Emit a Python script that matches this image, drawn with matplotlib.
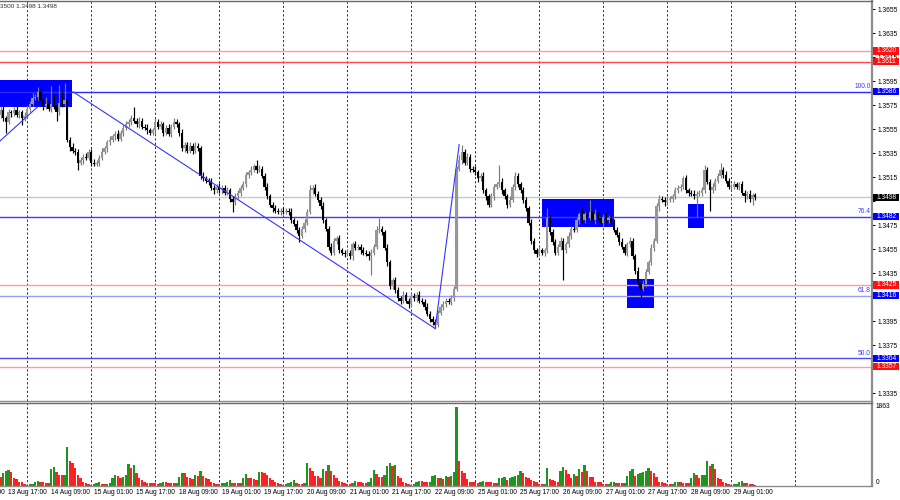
import matplotlib
matplotlib.use("Agg")
import matplotlib.pyplot as plt
from matplotlib.patches import Rectangle
import matplotlib.transforms as mtransforms

plt.rcParams['font.family'] = ['Liberation Sans', 'DejaVu Sans']

# ---------------- data (prices in pips: 13571 -> 1.3571) ----------------
first_open = 13567
closes = [
    13571,13564,13561,13569,13568,13571,13567,13569,13564,13566,
    13572,13576,13581,13582,13586,13579,13574,13576,13572,13576,
    13574,13569,13577,13576,13579,13546,13540,13537,13536,13527,
    13529,13532,13531,13536,13527,13526,13527,13531,13536,13539,
    13544,13546,13549,13551,13547,13552,13556,13559,13561,13564,
    13562,13559,13562,13557,13556,13554,13552,13554,13561,13557,
    13559,13552,13556,13551,13557,13561,13559,13552,13539,13542,
    13537,13541,13537,13541,13539,13516,13514,13512,13511,13506,
    13504,13507,13504,13506,13502,13504,13497,13494,13499,13502,
    13506,13509,13517,13519,13521,13524,13521,13522,13516,13507,
    13499,13492,13489,13487,13486,13487,13486,13487,13486,13479,
    13476,13471,13466,13472,13477,13486,13504,13506,13501,13496,
    13491,13479,13472,13457,13452,13462,13464,13454,13452,13451,
    13452,13449,13459,13456,13457,13454,13452,13451,13449,13452,
    13457,13471,13472,13469,13456,13444,13424,13429,13421,13414,
    13412,13417,13412,13409,13416,13414,13417,13412,13411,13407,
    13401,13397,13394,13392,13402,13407,13409,13412,13411,13414,
    13422,13522,13529,13536,13527,13532,13522,13521,13519,13514,
    13516,13504,13499,13492,13499,13507,13509,13511,13504,13499,
    13492,13496,13507,13516,13509,13504,13496,13489,13477,13462,
    13454,13451,13454,13452,13454,13481,13469,13461,13452,13457,
    13462,13454,13459,13466,13472,13471,13479,13484,13479,13484,
    13481,13486,13479,13484,13481,13477,13482,13479,13481,13477,
    13471,13467,13461,13457,13452,13459,13462,13449,13437,13427,
    13422,13426,13436,13444,13456,13462,13491,13497,13496,13494,
    13496,13497,13499,13504,13506,13507,13514,13504,13502,13501,
    13499,13501,13502,13504,13521,13511,13504,13507,13512,13516,
    13521,13517,13512,13507,13507,13509,13507,13509,13502,13499,
    13501,13497,13500,13498,
]
upper_wick = [
    2,3,2,3,2,2,3,2,2,3,
    3,2,4,2,4,3,2,6,3,15,
    8,2,15,10,14,3,2,3,2,2,
    3,2,3,2,2,3,2,2,3,2,
    2,3,2,2,3,2,2,3,2,3,
    9,2,3,2,2,3,2,2,3,2,
    3,2,2,3,2,3,2,2,3,2,
    2,3,2,3,2,2,3,2,2,3,
    2,2,3,2,2,3,2,2,3,2,
    2,3,2,2,3,2,5,3,2,2,
    3,2,2,3,2,2,3,2,2,3,
    2,3,2,2,3,2,4,2,3,2,
    2,3,2,2,3,2,2,3,2,2,
    3,2,2,3,2,2,3,2,2,3,
    2,3,9,2,2,3,2,2,3,2,
    2,3,2,2,3,2,2,3,2,2,
    3,2,2,3,2,2,3,2,2,3,
    2,2,4,6,2,3,2,2,3,2,
    2,3,2,2,3,2,2,14,3,2,
    2,3,2,3,2,2,3,2,2,3,
    2,2,3,2,2,8,2,3,2,2,
    3,2,2,3,2,2,3,2,5,2,
    3,10,2,4,2,3,2,4,2,2,
    3,2,2,3,2,2,3,2,2,3,
    2,3,2,2,3,2,2,3,2,2,
    3,2,2,3,2,2,2,3,2,2,
    3,2,2,3,4,2,2,3,2,2,
    6,2,3,2,2,3,2,2,3,2,
    2,3,2,2,
]
lower_wick = [
    3,2,9,2,3,2,2,3,6,2,
    2,3,2,2,3,2,3,2,2,3,
    2,7,2,3,2,2,3,2,3,6,
    2,3,2,2,3,2,2,3,2,2,
    3,2,2,3,2,2,3,2,2,3,
    2,2,3,2,2,3,2,2,3,2,
    2,3,2,2,3,2,2,3,2,3,
    2,2,3,2,2,3,2,2,3,2,
    3,2,2,3,2,2,3,8,2,2,
    3,2,2,3,2,2,3,2,2,3,
    2,2,3,2,2,3,2,2,3,2,
    2,3,5,2,3,2,2,3,2,2,
    3,2,2,3,2,2,3,2,2,3,
    2,2,3,2,2,3,2,2,3,16,
    2,2,3,2,2,3,2,2,3,2,
    3,2,2,3,2,2,3,2,2,3,
    2,3,2,3,2,2,3,2,2,3,
    2,2,2,3,2,2,3,2,2,3,
    2,2,3,2,2,3,2,2,3,2,
    3,2,2,3,2,2,3,2,2,3,
    2,3,2,2,3,2,2,3,2,2,
    3,25,2,2,3,2,2,3,2,2,
    3,2,2,3,2,2,3,2,2,3,
    2,2,3,2,2,3,2,2,3,2,
    7,2,3,2,2,3,2,4,2,3,
    2,2,3,2,2,3,2,2,3,2,
    2,17,2,3,2,2,17,2,3,2,
    2,3,2,2,3,2,2,3,2,5,
    2,3,5,2,
]
volumes = [
    216,296,344,376,320,184,160,104,88,56,
    30,40,56,104,120,104,96,80,72,400,
    456,320,248,248,264,920,600,536,424,264,
    184,88,72,56,30,40,72,88,56,48,
    56,64,184,264,232,200,216,264,520,424,
    488,296,184,152,104,80,80,64,64,40,
    64,88,88,72,72,64,80,216,304,304,
    216,184,168,264,232,360,240,200,160,88,
    72,56,40,64,72,104,152,80,72,72,
    72,200,280,200,184,160,152,336,336,296,
    264,200,152,104,72,40,30,40,72,104,
    152,80,56,40,80,536,424,344,240,232,
    200,400,360,488,344,264,184,120,88,72,
    56,40,72,120,104,104,72,72,96,200,
    376,280,216,216,248,480,536,472,496,240,
    184,104,72,40,30,56,88,120,120,104,
    88,96,232,248,184,200,168,232,216,240,
    320,1863,600,360,296,160,104,88,88,72,
    104,112,104,88,88,72,72,184,192,216,
    136,184,216,240,264,360,312,216,184,144,
    120,88,56,40,56,424,168,136,120,88,
    360,456,376,280,200,280,240,392,328,488,
    344,216,216,88,88,88,56,40,56,88,
    104,72,72,64,80,232,344,408,232,280,
    296,320,360,424,344,296,216,104,88,72,
    56,40,56,88,104,88,72,72,72,200,
    296,264,184,248,256,600,472,520,408,184,
    176,88,72,40,30,40,56,88,120,72,
    64,56,48,30,
]
time_labels = ["13 Aug 01:00", "13 Aug 17:00", "14 Aug 09:00", "15 Aug 01:00",
               "15 Aug 17:00", "18 Aug 09:00", "19 Aug 01:00", "19 Aug 17:00",
               "20 Aug 09:00", "21 Aug 01:00", "21 Aug 17:00", "22 Aug 09:00",
               "25 Aug 01:00", "25 Aug 17:00", "26 Aug 09:00", "27 Aug 01:00",
               "27 Aug 17:00", "28 Aug 09:00", "29 Aug 01:00"]
label_first_bar = -13
label_step = 16
grid_first_bar = 10
grid_step = 24
n_grid = 13

price_ticks = [1.3655, 1.3635, 1.3615, 1.3595, 1.3575, 1.3555, 1.3535, 1.3515,
               1.3495, 1.3475, 1.3455, 1.3435, 1.3415, 1.3395, 1.3375, 1.3355, 1.3335]
hidden_ticks = [1.3495, 1.3415, 1.3355]   # covered by level labels in the reference

# horizontal levels: (price, line colour, label bg colour)
levels = [
    (1.3620, '#ff9c9c', '#ff1010'),
    (1.3611, '#ff4a4a', '#ff1010'),
    (1.3586, '#2a2aff', '#0000ff'),
    (1.3498, '#c8c8c8', '#000000'),
    (1.3482, '#3c3cff', '#0000ff'),
    (1.3425, '#ff9c9c', '#ff1010'),
    (1.3416, '#9c9cff', '#0000ff'),
    (1.3364, '#4a4aff', '#0000ff'),
    (1.3357, '#ff9c9c', '#ff1010'),
]
fib_labels = [(1.3586, "100.0"), (1.3482, "76.4"), (1.3416, "61.8"), (1.3364, "50.0")]

# trend lines (bar index, price)
trend_lines = [
    ((-0.2, 1.3545), (13.7, 1.3573)),
    ((27.2, 1.3586), (163.0, 1.33887)),
    ((163.0, 1.33887), (172.0, 1.3542)),
]
# zones: (bar start, bar end, price low, price high)
zones = [
    (-0.2, 26.8, 1.3573, 1.3596),
    (203.0, 230.0, 1.3473, 1.3497),
    (235.0, 245.0, 1.3406, 1.3430),
    (257.8, 263.8, 1.34725, 1.34925),
]
header_text = "3500 1.3498 1.3498"
vol_max_label = 1863

# ---------------- figure ----------------
W, H = 900, 500
fig = plt.figure(figsize=(9, 5), dpi=100)
ax = fig.add_axes([0, 1 - 401 / H, 872 / W, 400 / H])
axv = fig.add_axes([0, 1 - 486 / H, 872 / W, 83 / H])

px_per_bar = 8 / 3.0
x_left = -0.5 / px_per_bar
x_right = (872 - 0.5) / px_per_bar
ax.set_xlim(x_left, x_right)
axv.set_xlim(x_left, x_right)
ax.set_ylim(1.3655 - 392 / 12000.0, 1.3655 + 8 / 12000.0)
axv.set_ylim(0, vol_max_label * 83 / 79.0)

n = len(closes)
idx = list(range(n))
c = [v / 1e4 for v in closes]
o = [first_open / 1e4] + c[:-1]
hi = [max(o[i], c[i]) + upper_wick[i] / 1e4 for i in idx]
lo = [min(o[i], c[i]) - lower_wick[i] / 1e4 for i in idx]

# grid
for j in range(n_grid):
    gx = grid_first_bar + j * grid_step
    for a in (ax, axv):
        a.axvline(gx, color='#2a2a2a', lw=0.7, ls=(0, (2.2, 2.2)), zorder=0.5)

# zones
for (x0, x1, p0, p1) in zones:
    ax.add_patch(Rectangle((x0, p0), x1 - x0, p1 - p0, facecolor='#0000ff',
                           edgecolor='none', zorder=1))

# levels
for (p, lc, bc) in levels:
    ax.axhline(p, color=lc, lw=1.0, zorder=1.5)

# candles
bull_col, bear_col = '#969696', '#000000'
body_w = 0.8
for i in idx:
    up = c[i] >= o[i]
    col = bull_col if up else bear_col
    wcol = '#7a7a7a' if up else '#000000'
    ax.vlines(i, lo[i], hi[i], color=wcol, lw=0.85, zorder=3)
    h = abs(c[i] - o[i])
    if h < 0.00009:
        h = 0.00009
    ax.bar(i, h, bottom=min(o[i], c[i]), width=body_w, color=col,
           edgecolor='none', zorder=3.5)

# trend lines
for (p0, p1) in trend_lines:
    ax.plot([p0[0], p1[0]], [p0[1], p1[1]], color='#3535ff', lw=0.8, zorder=4)

# fib labels
ytr = ax.get_yaxis_transform()
for (p, t) in fib_labels:
    ax.text(1 - 1.5 / 872, p + 0.00012, t, transform=ytr, ha='right', va='bottom',
            fontsize=4.8, color='#3a3aff', zorder=5)

# right price axis
ax.yaxis.tick_right()
ax.set_yticks(price_ticks)
ax.set_yticklabels(["" if t in hidden_ticks else f"{t:.4f}" for t in price_ticks])
ax.tick_params(axis='y', length=2.5, width=0.7, pad=1.5, labelsize=4.8,
               colors='#000000')
ax.set_xticks([])
for (p, lc, bc) in levels:
    ax.add_patch(Rectangle((1 + 1 / 872, p - 0.0003), 26 / 872, 0.0006,
                           transform=ytr, facecolor=bc, edgecolor='none',
                           clip_on=False, zorder=6))
    ax.text(1 + 5 / 872, p, f"{p:.4f}", transform=ytr, ha='left', va='center',
            fontsize=4.8, color='white', clip_on=False, zorder=7)

# spines
for a in (ax, axv):
    a.spines['left'].set_visible(False)
    a.spines['right'].set_color('#8c8c8c')
    a.spines['right'].set_linewidth(1.6)
    a.spines['top'].set_color('#6a6a6a')
    a.spines['bottom'].set_color('#8c8c8c')
    a.spines['top'].set_linewidth(1.0)
    a.spines['bottom'].set_linewidth(1.0)

# volumes
vcols = []
for i in idx:
    if i > 0 and volumes[i] > volumes[i - 1]:
        vcols.append('#1e961e')
    else:
        vcols.append('#ff2020')
axv.bar(idx, volumes, width=0.8, color=vcols, edgecolor='none', zorder=2)
axv.set_xticks([])
axv.set_yticks([])
vtr = axv.get_yaxis_transform()
axv.text(1 + 4 / 872, vol_max_label, str(vol_max_label), transform=vtr,
         ha='left', va='center', fontsize=4.8, clip_on=False)
axv.text(1 + 4 / 872, 0, "0", transform=vtr, ha='left', va='bottom',
         fontsize=4.8, clip_on=False)

# time labels
xtr = mtransforms.blended_transform_factory(axv.transData, axv.transAxes)
for j, t in enumerate(time_labels):
    xb = label_first_bar + j * label_step
    axv.text(xb, -6.5 / 83, t, transform=xtr, ha='left', va='center',
             fontsize=4.8, color='#000000', clip_on=False)

fig.text(0.5 / W, 1 - 7 / H, header_text, ha='left', va='center', fontsize=4.6,
         color='#303030')

fig.savefig("out.png", dpi=100, facecolor='white')
